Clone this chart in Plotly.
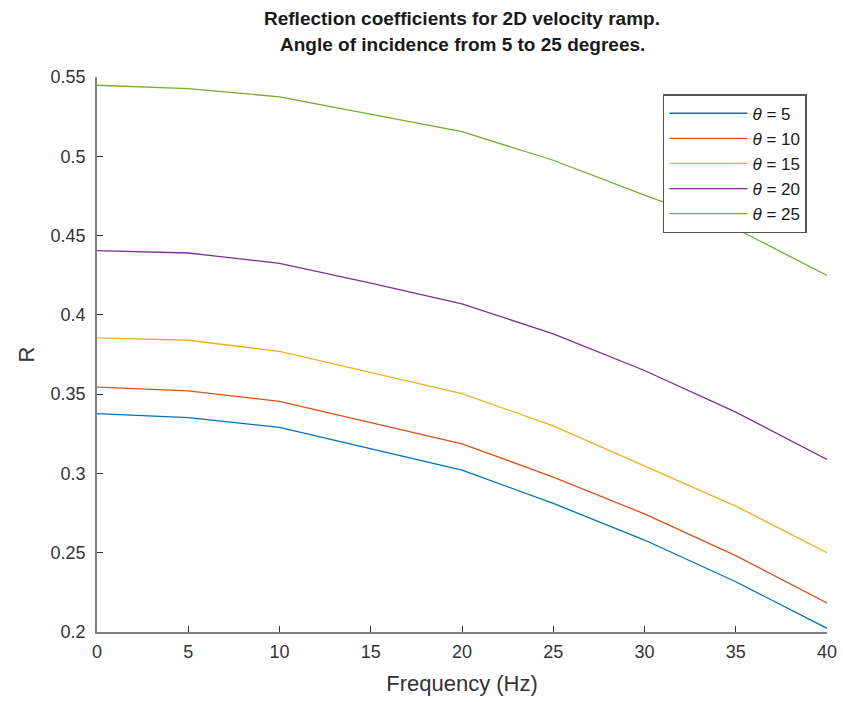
import plotly.graph_objects as go

freq = [0, 5, 10, 15, 20, 25, 30, 35, 40]
r_theta5 = [0.3377, 0.3352, 0.3290, 0.3155, 0.3021, 0.2811, 0.2580, 0.2317, 0.2023]
r_theta10 = [0.3544, 0.3520, 0.3455, 0.3320, 0.3187, 0.2977, 0.2745, 0.2482, 0.2183]
r_theta15 = [0.3855, 0.3840, 0.3770, 0.3638, 0.3503, 0.3300, 0.3046, 0.2794, 0.2500]
r_theta20 = [0.4405, 0.4390, 0.4325, 0.4200, 0.4070, 0.3880, 0.3649, 0.3387, 0.3088]
r_theta25 = [0.5448, 0.5427, 0.5375, 0.5265, 0.5155, 0.4975, 0.4755, 0.4544, 0.4248]
labels = ["5", "10", "15", "20", "25"]
series = [r_theta5, r_theta10, r_theta15, r_theta20, r_theta25]
colors = ["#0072BD", "#D95319", "#EDB120", "#7E2F8E", "#77AC30"]
title_lines = ["Reflection coefficients for 2D velocity ramp.",
               "Angle of incidence from 5 to 25 degrees."]

fig = go.Figure()
for lab, ys, c in zip(labels, series, colors):
    fig.add_trace(go.Scatter(x=freq, y=ys, mode="lines",
                             name="<i>θ</i> = " + lab,
                             line=dict(color=c, width=1.3)))

font_family = "Liberation Sans, Arial, sans-serif"
plot_h = 702 - 77 - 70
for i, (line, ypx) in enumerate(zip(title_lines, [19, 45])):
    fig.add_annotation(text="<b>" + line + "</b>", xref="paper", yref="paper",
                       x=0.5, y=1 + (77 - ypx) / plot_h, xanchor="center", yanchor="middle",
                       showarrow=False, font=dict(size=19, color="#1a1a1a", family=font_family))

fig.update_layout(
    width=843, height=702,
    margin=dict(l=97, r=16, t=77, b=70),
    paper_bgcolor="white", plot_bgcolor="white",
    font=dict(family=font_family, color="#262626"),
    legend=dict(x=0.9726, xanchor="right", y=0.969, yanchor="top",
                bgcolor="white", bordercolor="#555555", borderwidth=1.5,
                font=dict(size=17, color="#1a1a1a"), tracegroupgap=0,
                itemwidth=78),
    showlegend=True,
)
fig.update_xaxes(range=[0, 40], tickvals=[0, 5, 10, 15, 20, 25, 30, 35, 40],
                 automargin=False,
                 showgrid=False, zeroline=False, showline=True, linecolor="#808080",
                 linewidth=1.5, mirror=False, ticks="inside", ticklen=6, tickcolor="#333333",
                 ticklabelstandoff=3,
                 tickfont=dict(size=18, color="#333333"),
                 title=dict(text="Frequency (Hz)", font=dict(size=22, color="#333333"), standoff=14))
fig.update_yaxes(range=[0.2, 0.55], tickvals=[0.2, 0.25, 0.3, 0.35, 0.4, 0.45, 0.5, 0.55],
                 ticktext=["0.2", "0.25", "0.3", "0.35", "0.4", "0.45", "0.5", "0.55"],
                 automargin=False,
                 showgrid=False, zeroline=False, showline=True, linecolor="#808080",
                 linewidth=1.5, mirror=False, ticks="inside", ticklen=6, tickcolor="#333333",
                 ticklabelstandoff=6,
                 tickfont=dict(size=18, color="#333333"),
                 title=dict(text="R", font=dict(size=22, color="#333333"), standoff=10))

fig.write_html("out.html")
